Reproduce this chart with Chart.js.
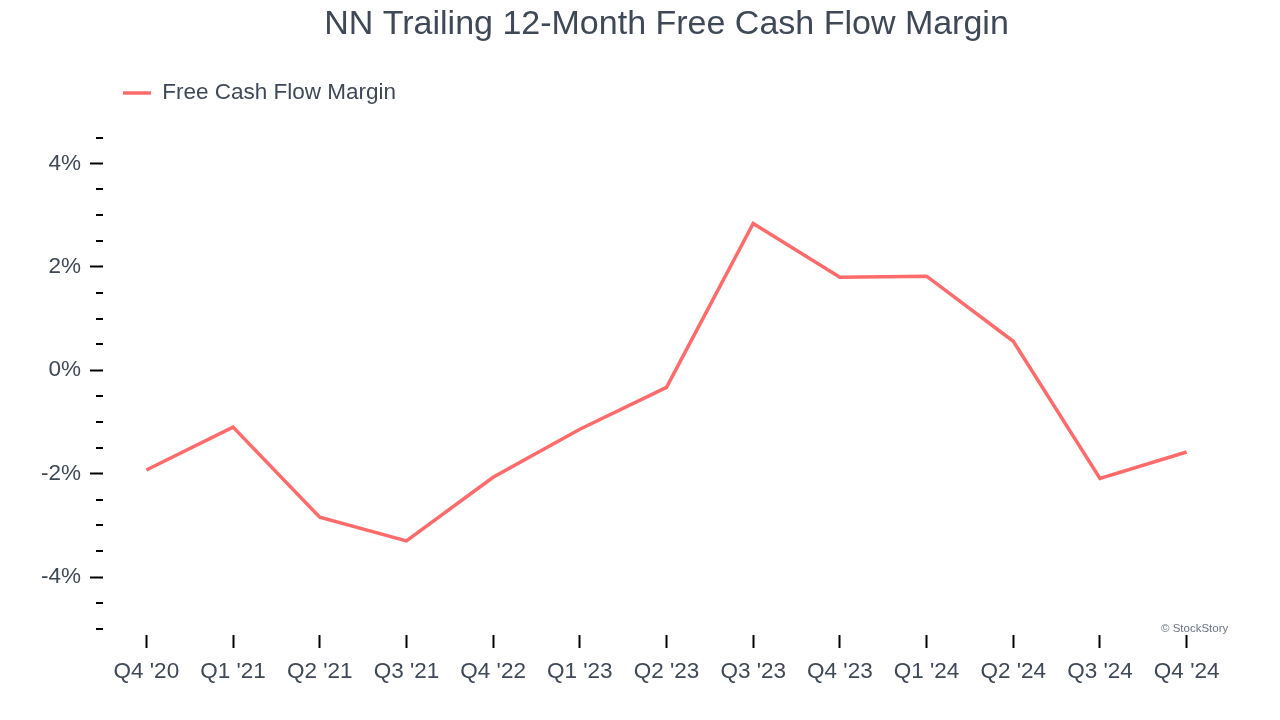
<!DOCTYPE html>
<html>
<head>
<meta charset="utf-8">
<script src="https://cdn.jsdelivr.net/npm/chart.js@4.4.1/dist/chart.umd.min.js"></script>
<style>
html,body{margin:0;padding:0;background:#fff;}
#wrap{position:relative;width:1280px;height:720px;}
#credit{position:absolute;left:1161px;top:622px;font:11.5px "Liberation Sans",Arial,sans-serif;color:#6b7280;}
</style>
</head>
<body>
<div id="wrap"><canvas id="c" width="1280" height="720"></canvas><div id="credit">© StockStory</div></div>
<script>
const categories = ["Q4 '20","Q1 '21","Q2 '21","Q3 '21","Q4 '22","Q1 '23","Q2 '23","Q3 '23","Q4 '23","Q1 '24","Q2 '24","Q3 '24","Q4 '24"];
const fcfMargin = [-1.93, -1.10, -2.84, -3.30, -2.07, -1.14, -0.33, 2.84, 1.80, 1.82, 0.56, -2.09, -1.58];
const yMajorTicks = [-4, -2, 0, 2, 4];
const yMinorTicks = [-5, -4.5, -3.5, -3, -2.5, -1.5, -1, -0.5, 0.5, 1, 1.5, 2.5, 3, 3.5, 4.5];
const yMin = -5.12, yMax = 4.95;

const FONT = '"Liberation Sans", Arial, sans-serif';
const TEXT = '#3f4857';
const RED = '#ff6b6b';

const minorTicks = {
  id: 'minorTicks',
  afterDraw(chart) {
    const s = chart.scales.y, ctx = chart.ctx;
    ctx.save();
    ctx.strokeStyle = '#000';
    ctx.lineWidth = 2;
    yMinorTicks.forEach(v => {
      const y = Math.round(s.getPixelForValue(v));
      ctx.beginPath();
      ctx.moveTo(s.right - 7, y);
      ctx.lineTo(s.right, y);
      ctx.stroke();
    });
    ctx.restore();
  }
};

new Chart(document.getElementById('c'), {
  type: 'line',
  data: {
    labels: categories,
    datasets: [{
      label: 'Free Cash Flow Margin',
      data: fcfMargin,
      borderColor: RED,
      backgroundColor: RED,
      borderWidth: 3.5,
      pointRadius: 0,
      tension: 0
    }]
  },
  options: {
    responsive: false,
    animation: false,
    devicePixelRatio: 1,
    layout: { padding: { left: 0, right: 50, top: 0, bottom: 25 } },
    plugins: {
      title: {
        display: true,
        text: 'NN Trailing 12-Month Free Cash Flow Margin',
        fullSize: false,
        color: TEXT,
        font: { family: FONT, size: 34, weight: 'normal' },
        padding: { top: 4, bottom: 17 }
      },
      legend: {
        display: true,
        align: 'start',
        fullSize: false,
        labels: {
          color: TEXT,
          font: { family: FONT, size: 22.5 },
          boxWidth: 28,
          boxHeight: 3.5,
          padding: 20,
          generateLabels(chart) {
            return Chart.defaults.plugins.legend.labels.generateLabels(chart).map(l => Object.assign(l, { lineWidth: 0, strokeStyle: 'rgba(0,0,0,0)' }));
          }
        }
      },
      tooltip: { enabled: false }
    },
    scales: {
      x: {
        offset: true,
        border: { display: false },
        grid: { display: true, drawOnChartArea: false, drawTicks: true, tickLength: 13, tickColor: '#000', tickWidth: 2 },
        ticks: { color: TEXT, font: { family: FONT, size: 22.5 }, padding: 10, maxRotation: 0, autoSkip: false }
      },
      y: {
        min: yMin,
        max: yMax,
        border: { display: false },
        afterFit(scale) { scale.width = 103; },
        afterBuildTicks(scale) { scale.ticks = yMajorTicks.map(v => ({ value: v })); },
        grid: { display: true, drawOnChartArea: false, drawTicks: true, tickLength: 13, tickColor: '#000', tickWidth: 2 },
        ticks: { color: TEXT, font: { family: FONT, size: 22.5 }, padding: 9, callback: v => v + '%' }
      }
    }
  },
  plugins: [minorTicks]
});
</script>
</body>
</html>
